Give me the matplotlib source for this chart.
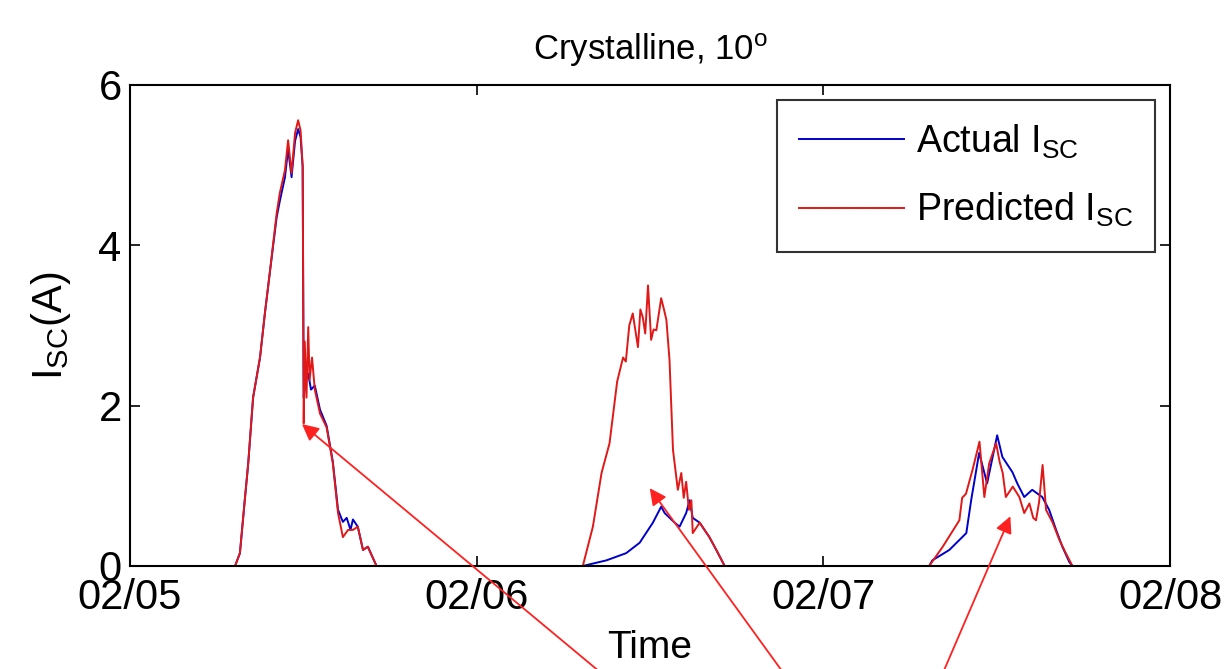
import numpy as np
import matplotlib
matplotlib.use("Agg")
import matplotlib.pyplot as plt
import matplotlib.dates as mdates
from datetime import datetime

plt.rcParams['font.family'] = ['Liberation Sans', 'DejaVu Sans']
plt.rcParams['mathtext.fontset'] = 'custom'
plt.rcParams['mathtext.rm'] = 'Liberation Sans'
plt.rcParams['mathtext.it'] = 'Liberation Sans'

# time in days after 02/05 00:00
pred_t = [0.0, 0.303, 0.317, 0.331, 0.341, 0.355, 0.375, 0.389, 0.403, 0.423, 0.432, 0.447,
          0.456, 0.466, 0.476, 0.485, 0.492, 0.498, 0.501, 0.504, 0.509, 0.514, 0.518, 0.525,
          0.533, 0.548, 0.567, 0.585, 0.600, 0.614, 0.629, 0.643, 0.657, 0.672, 0.686, 0.711,
          1.306, 1.335, 1.360, 1.383, 1.405, 1.422, 1.430, 1.440, 1.450, 1.465, 1.472, 1.479,
          1.486, 1.494, 1.503, 1.510, 1.518, 1.532, 1.540, 1.547, 1.556, 1.566, 1.580, 1.590,
          1.597, 1.604, 1.612, 1.619, 1.623, 1.643, 1.657, 1.671, 1.691, 1.715,
          2.305, 2.344, 2.392, 2.400, 2.411, 2.430, 2.450, 2.464, 2.478, 2.498, 2.508, 2.517,
          2.526, 2.546, 2.565, 2.579, 2.594, 2.605, 2.613, 2.622, 2.632, 2.642, 2.661, 2.680,
          2.699, 2.718, 3.0]
pred_v = [0.0, 0.0, 0.16, 0.82, 1.28, 2.1, 2.6, 3.15, 3.65, 4.4, 4.65, 4.94,
          5.31, 4.9, 5.4, 5.56, 5.43, 4.98, 1.78, 2.8, 2.1, 2.98, 2.32, 2.6,
          2.2, 1.9, 1.73, 1.28, 0.66, 0.36, 0.45, 0.45, 0.49, 0.2, 0.24, 0.0,
          0.0, 0.49, 1.16, 1.53, 2.3, 2.6, 2.55, 3.0, 3.15, 2.73, 3.2, 3.1,
          2.9, 3.5, 2.82, 2.95, 2.94, 3.34, 3.2, 3.07, 2.57, 1.45, 0.95, 1.16,
          0.85, 1.05, 0.7, 0.82, 0.41, 0.54, 0.45, 0.36, 0.2, 0.0,
          0.0, 0.24, 0.57, 0.85, 0.9, 1.2, 1.55, 0.86, 1.28, 1.53, 1.3, 1.16,
          0.86, 0.99, 0.86, 0.66, 0.78, 0.6, 0.57, 0.8, 1.26, 0.7, 0.54, 0.33,
          0.16, 0.0, 0.0]

act_t = [0.0, 0.303, 0.317, 0.331, 0.341, 0.355, 0.375, 0.389, 0.403, 0.423, 0.432, 0.447,
         0.456, 0.466, 0.476, 0.485, 0.492, 0.498, 0.501, 0.506, 0.514, 0.522, 0.533, 0.548,
         0.567, 0.585, 0.600, 0.614, 0.625, 0.636, 0.643, 0.657, 0.672, 0.686, 0.711,
         1.306, 1.374, 1.431, 1.470, 1.508, 1.532, 1.542, 1.571, 1.585, 1.604, 1.614, 1.623,
         1.643, 1.671, 1.691, 1.715,
         2.305, 2.314, 2.363, 2.412, 2.426, 2.449, 2.472, 2.501, 2.516, 2.545, 2.559, 2.579,
         2.602, 2.631, 2.651, 2.671, 2.689, 2.709, 2.718, 3.0]
act_v = [0.0, 0.0, 0.16, 0.82, 1.28, 2.1, 2.6, 3.15, 3.65, 4.35, 4.55, 4.85,
         5.2, 4.85, 5.3, 5.45, 5.35, 4.98, 2.1, 2.3, 2.4, 2.2, 2.25, 1.95,
         1.75, 1.3, 0.7, 0.55, 0.6, 0.45, 0.58, 0.49, 0.2, 0.24, 0.0,
         0.0, 0.07, 0.16, 0.29, 0.54, 0.74, 0.66, 0.54, 0.49, 0.66, 0.82, 0.6,
         0.54, 0.36, 0.2, 0.0,
         0.0, 0.07, 0.2, 0.41, 0.82, 1.41, 1.03, 1.63, 1.36, 1.17, 1.03, 0.86,
         0.95, 0.86, 0.7, 0.45, 0.24, 0.05, 0.0, 0.0]

start = mdates.date2num(datetime(2013, 2, 5))
x_ticks = [datetime(2013, 2, d) for d in (5, 6, 7, 8)]
y_ticks = [0, 2, 4, 6]

fig = plt.figure(figsize=(12.31, 6.69), dpi=100)
ax = fig.add_axes([0.1056, 0.154, 0.845, 0.719])

ax.plot(start + np.array(act_t), act_v, color='#0000cc', lw=1.4, label=r'Actual I$_{\mathrm{SC}}$')
ax.plot(start + np.array(pred_t), pred_v, color='#e01818', lw=1.4, label=r'Predicted I$_{\mathrm{SC}}$')

ax.set_xlim(mdates.date2num(x_ticks[0]), mdates.date2num(x_ticks[-1]))
ax.set_ylim(0, 6)
ax.set_xticks(mdates.date2num(x_ticks))
ax.xaxis.set_major_formatter(mdates.DateFormatter('%m/%d'))
ax.set_yticks(y_ticks)
ax.tick_params(direction='in', top=True, right=True, labelsize=30, length=7, width=1.2)
ax.tick_params(axis='x', pad=9)
ax.tick_params(axis='y', pad=6)
for s in ax.spines.values():
    s.set_linewidth(1.5)

ax.set_title(r'Crystalline, 10$^{\mathrm{o}}$', fontsize=25, pad=18)
ax.set_xlabel('Time', fontsize=28, labelpad=8)
ax.set_ylabel(r'I$_{\mathrm{SC}}$(A)', fontsize=30, labelpad=18)

leg = ax.legend(loc='upper right', fontsize=27, frameon=True, fancybox=False,
                edgecolor='black', handlelength=2.8, handletextpad=0.3,
                borderaxespad=0.4, labelspacing=0.8, borderpad=0.6)
leg.get_frame().set_linewidth(1.5)

# arrows from below the figure to points on curves
heads = [(0.496, 1.77), (1.499, 0.97), (2.539, 0.62)]
tails = [(0.491, -0.01), (0.638, -0.01), (0.765, -0.01)]
for (hx, hy), (tx, ty) in zip(heads, tails):
    ax.annotate('', xy=(start + hx, hy), xycoords='data',
                xytext=(tx, ty), textcoords='figure fraction',
                arrowprops=dict(arrowstyle='-|>', color='#ff2020', lw=1.3, mutation_scale=25,
                                shrinkA=0, shrinkB=0),
                annotation_clip=False)

fig.savefig('out.png', dpi=100)
